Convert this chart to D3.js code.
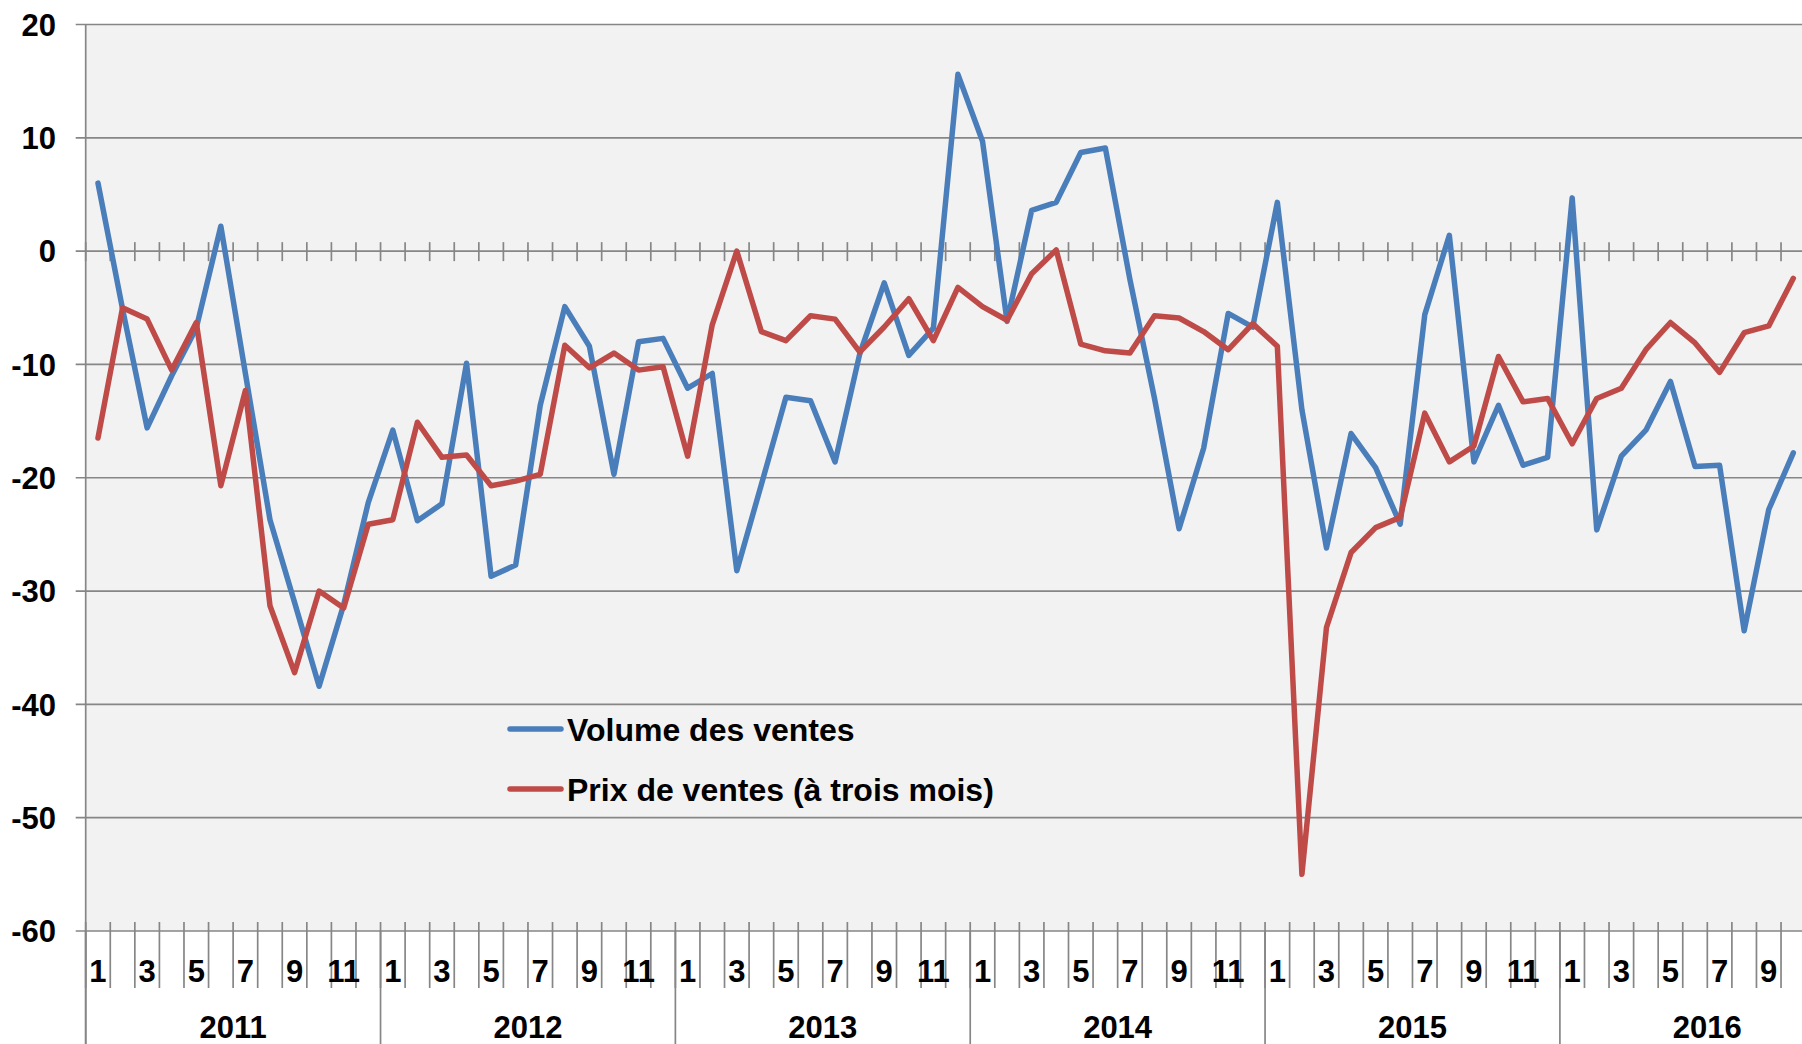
<!DOCTYPE html>
<html>
<head>
<meta charset="utf-8">
<script src="https://cdn.jsdelivr.net/npm/d3@7"></script>
<style>
  html, body { margin: 0; padding: 0; background: #fff; }
  svg text { font-family: Arial, "Liberation Sans", sans-serif; font-weight: bold; fill: #000; }
</style>
</head>
<body>
<div id="chart"></div>
<script>
// data
const years = ["2011", "2012", "2013", "2014", "2015", "2016"];
const monthCounts = [12, 12, 12, 12, 12, 10];
const yTicks = [20, 10, 0, -10, -20, -30, -40, -50, -60];

const seriesNames = ["Volume des ventes", "Prix de ventes (à trois mois)"];

const volume = [
  6.0, -5.1, -15.6, -11.0, -6.8, 2.2, -10.8, -23.7, -31.0, -38.4, -31.2, -22.2,
  -15.8, -23.8, -22.3, -9.9, -28.7, -27.7, -13.6, -4.9, -8.4, -19.7, -8.0, -7.7,
  -12.1, -10.8, -28.2, -20.6, -12.9, -13.2, -18.6, -9.1, -2.8, -9.2, -6.8, 15.6,
  9.7, -6.2, 3.6, 4.3, 8.7, 9.1, -2.5, -13.0, -24.5, -17.4, -5.5, -6.7,
  4.3, -14.0, -26.2, -16.1, -19.1, -24.1, -5.6, 1.4, -18.6, -13.6, -18.9, -18.2,
  4.7, -24.6, -18.1, -15.8, -11.5, -19.0, -18.9, -33.5, -22.8, -17.8
];

const prix = [
  -16.5, -5.0, -6.0, -10.5, -6.3, -20.7, -12.3, -31.3, -37.2, -30.0, -31.5, -24.1,
  -23.7, -15.1, -18.2, -18.0, -20.7, -20.3, -19.7, -8.3, -10.3, -9.0, -10.5, -10.2,
  -18.1, -6.5, 0.0, -7.1, -7.9, -5.7, -6.0, -8.9, -6.7, -4.2, -7.9, -3.2,
  -4.9, -6.1, -2.0, 0.1, -8.2, -8.8, -9.0, -5.7, -5.9, -7.1, -8.7, -6.4,
  -8.4, -55.0, -33.2, -26.6, -24.4, -23.5, -14.3, -18.6, -17.2, -9.3, -13.3, -13.0,
  -17.0, -13.0, -12.1, -8.7, -6.3, -8.1, -10.7, -7.2, -6.6, -2.4
];

const config = {
  width: 1802,
  height: 1044,
  left: 85.7,
  top: 24.5,
  bottom: 931,
  band: 24.57,
  blue: "#4A7EBB",
  red: "#BE4B48",
  grid: "#868686",
  plotBg: "#F2F2F2",
};

// build the category list (year, month)
const categories = [];
years.forEach((y, yi) => {
  for (let m = 1; m <= monthCounts[yi]; m++) categories.push({ year: y, month: m, key: y + "-" + m });
});

const svg = d3.select("#chart")
  .append("svg")
  .attr("width", config.width)
  .attr("height", config.height);

const xScale = d3.scaleBand()
  .domain(categories.map((d) => d.key))
  .range([config.left, config.left + config.band * categories.length])
  .padding(0);

const yScale = d3.scaleLinear()
  .domain([-60, 20])
  .range([config.bottom, config.top]);

const xMid = (k) => xScale(k) + xScale.bandwidth() / 2;

// plot area background
svg.append("rect")
  .attr("x", config.left)
  .attr("y", config.top)
  .attr("width", config.width - config.left)
  .attr("height", config.bottom - config.top)
  .attr("fill", config.plotBg);

// horizontal grid lines (with the small outside ticks on the left)
svg.selectAll(".hgrid")
  .data(yTicks)
  .join("line")
  .attr("class", "hgrid")
  .attr("x1", config.left - 10)
  .attr("x2", config.width)
  .attr("y1", (d) => yScale(d))
  .attr("y2", (d) => yScale(d))
  .attr("stroke", config.grid)
  .attr("stroke-width", 1.7);

// y labels
svg.selectAll(".ylab")
  .data(yTicks)
  .join("text")
  .attr("class", "ylab")
  .attr("x", 56)
  .attr("y", (d) => yScale(d))
  .attr("dy", "0.36em")
  .attr("text-anchor", "end")
  .style("font-size", "31px")
  .text((d) => d);

// category boundaries
const boundaries = categories.map((d) => xScale(d.key)).concat([xScale.range()[1]]);

// ticks crossing the zero line
svg.selectAll(".zerotick")
  .data(boundaries)
  .join("line")
  .attr("class", "zerotick")
  .attr("x1", (d) => d)
  .attr("x2", (d) => d)
  .attr("y1", yScale(0) - 9)
  .attr("y2", yScale(0) + 10)
  .attr("stroke", config.grid)
  .attr("stroke-width", 1.7);

// ticks on the bottom axis
svg.selectAll(".bottick")
  .data(boundaries)
  .join("line")
  .attr("class", "bottick")
  .attr("x1", (d) => d)
  .attr("x2", (d) => d)
  .attr("y1", config.bottom - 9)
  .attr("y2", config.bottom + 57)
  .attr("stroke", config.grid)
  .attr("stroke-width", 1.7);

// year separators
let start = 0;
const yearInfo = years.map((y, yi) => {
  const first = categories[start].key;
  const last = categories[start + monthCounts[yi] - 1].key;
  start += monthCounts[yi];
  return { year: y, x0: xScale(first), x1: xScale(last) + xScale.bandwidth() };
});

svg.selectAll(".yearsep")
  .data(yearInfo)
  .join("line")
  .attr("class", "yearsep")
  .attr("x1", (d) => d.x0)
  .attr("x2", (d) => d.x0)
  .attr("y1", config.bottom)
  .attr("y2", config.height)
  .attr("stroke", config.grid)
  .attr("stroke-width", 1.7);

// y axis line
svg.append("line")
  .attr("x1", config.left)
  .attr("x2", config.left)
  .attr("y1", config.top)
  .attr("y2", config.height)
  .attr("stroke", config.grid)
  .attr("stroke-width", 1.7);

// month labels (odd months only)
svg.selectAll(".mlab")
  .data(categories.filter((d) => d.month % 2 === 1))
  .join("text")
  .attr("class", "mlab")
  .attr("x", (d) => xMid(d.key))
  .attr("y", 982)
  .attr("text-anchor", "middle")
  .style("font-size", "31px")
  .text((d) => d.month);

// year labels, centred on a full 12-month year
svg.selectAll(".ylabel")
  .data(yearInfo)
  .join("text")
  .attr("class", "ylabel")
  .attr("x", (d) => d.x0 + 6 * config.band)
  .attr("y", 1038)
  .attr("text-anchor", "middle")
  .style("font-size", "31px")
  .text((d) => d.year);

// lines
const line = d3.line()
  .x((d, i) => xMid(categories[i].key))
  .y((d) => yScale(d));

svg.append("path")
  .datum(volume)
  .attr("d", line)
  .attr("fill", "none")
  .attr("stroke", config.blue)
  .attr("stroke-width", 5.5)
  .attr("stroke-linejoin", "round")
  .attr("stroke-linecap", "round");

svg.append("path")
  .datum(prix)
  .attr("d", line)
  .attr("fill", "none")
  .attr("stroke", config.red)
  .attr("stroke-width", 5.5)
  .attr("stroke-linejoin", "round")
  .attr("stroke-linecap", "round");

// legend
const legend = svg.append("g").attr("class", "legend");
const legendItems = [
  { name: seriesNames[0], color: config.blue, y: 729 },
  { name: seriesNames[1], color: config.red, y: 789 },
];

legend.selectAll("line")
  .data(legendItems)
  .join("line")
  .attr("x1", 510)
  .attr("x2", 561)
  .attr("y1", (d) => d.y)
  .attr("y2", (d) => d.y)
  .attr("stroke", (d) => d.color)
  .attr("stroke-width", 5.5)
  .attr("stroke-linecap", "round");

legend.selectAll("text")
  .data(legendItems)
  .join("text")
  .attr("x", 567)
  .attr("y", (d) => d.y + 12)
  .style("font-size", "32px")
  .text((d) => d.name);
</script>
</body>
</html>
